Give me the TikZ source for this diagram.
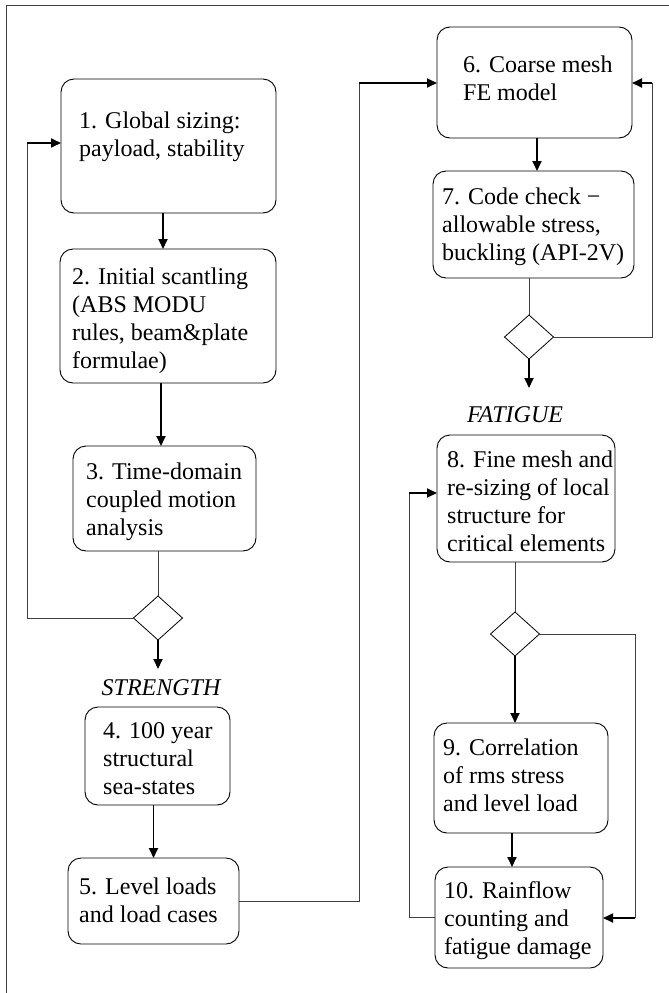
\documentclass[tikz,border=0pt]{standalone}
\usepackage{fontspec}
\setmainfont{Liberation Serif}
\usetikzlibrary{shapes.geometric,arrows.meta}
\tikzset{
  stepbox/.style={draw, rounded corners=13pt, line width=0.9pt, inner sep=0pt, outer sep=0pt},
  steptext/.style={anchor=west, align=left, inner sep=0pt, font=\fontsize{24}{28}\selectfont},
  phase/.style={font=\fontsize{24}{28}\selectfont\itshape, inner sep=0pt},
  decision/.style={draw, diamond, minimum width=49pt, minimum height=44pt, inner sep=0pt, outer sep=0pt, line width=0.8pt},
  flow/.style={-{Triangle[length=10pt,width=9pt]}, line width=1.8pt},
  link/.style={line width=0.9pt, black!75},
}
\begin{document}
\begin{tikzpicture}[x=1pt, y=-1pt]
\useasboundingbox (0,0) rectangle (669,993);
% frame
\draw[link] (6,1000) -- (6,5) -- (680,5);

% left column: sizing and strength
\node[stepbox, minimum width=215pt, minimum height=134pt] (b1) at (168.5,146) {};
\node[steptext] (t1) at ([shift={(18,-9)}]b1.west) {1. Global sizing:\\payload, stability};
\node[stepbox, minimum width=216pt, minimum height=134pt] (b2) at (168,316) {};
\node[steptext] (t2) at ([shift={(12,5)}]b2.west) {2. Initial scantling\\(ABS MODU\\rules, beam\&plate\\formulae)};
\node[stepbox, minimum width=183pt, minimum height=105pt] (b3) at (164.5,498.5) {};
\node[steptext] (t3) at ([shift={(13,3)}]b3.west) {3. Time-domain\\coupled motion\\analysis};
\node[decision] (d1) at (158,618) {};
\node[phase] (lstr) at (161,688) {STRENGTH};
\node[stepbox, minimum width=145pt, minimum height=98pt] (b4) at (157.5,756) {};
\node[steptext] (t4) at ([shift={(18,2.5)}]b4.west) {4. 100 year\\structural\\sea-states};
\node[stepbox, minimum width=171pt, minimum height=86pt] (b5) at (153.5,901) {};
\node[steptext] (t5) at ([shift={(11,-0.5)}]b5.west) {5. Level loads\\and load cases};

% right column: FE model and fatigue
\node[stepbox, minimum width=195pt, minimum height=111pt] (b6) at (534.5,82.5) {};
\node[steptext] (t6) at ([shift={(26,-4.5)}]b6.west) {6. Coarse mesh\\FE model};
\node[stepbox, minimum width=201pt, minimum height=107pt] (b7) at (533.5,224.5) {};
\node[steptext] (t7) at ([shift={(9,2)}]b7.west) {7. Code check −\\allowable stress,\\buckling (API-2V)};
\node[decision] (d2) at (529,337) {};
\node[phase] (lfat) at (515,415) {FATIGUE};
\node[stepbox, minimum width=178pt, minimum height=127pt] (b8) at (526,498.5) {};
\node[steptext] (t8) at ([shift={(10,3)}]b8.west) {8. Fine mesh and\\re-sizing of local\\structure for\\critical elements};
\node[decision] (d3) at (515,634) {};
\node[stepbox, minimum width=174pt, minimum height=110pt] (b9) at (521,778) {};
\node[steptext] (t9) at ([shift={(9,-2.5)}]b9.west) {9. Correlation\\of rms stress\\and level load};
\node[stepbox, minimum width=168pt, minimum height=101pt] (b10) at (519,917.5) {};
\node[steptext] (t10) at ([shift={(9,3)}]b10.west) {10. Rainflow\\counting and\\fatigue damage};

% bends and free ends
\coordinate (c1) at (27,143);
\coordinate (c2) at (359,83);
\coordinate (c3) at (652,83);
\coordinate (c4) at (409,493);
\coordinate (c5) at (635,918);
\coordinate (e1) at (158,669);
\coordinate (e2) at (529,388);

% connectors
\draw[flow] ([xshift=-5.5pt]b1.south) -- ([xshift=-5.5pt]b1.south |- b2.north);
\draw[flow] ([xshift=-7pt]b2.south) -- ([xshift=-7pt]b2.south |- b3.north);
\draw[link] (d1.north |- b3.south) -- (d1.north);
\draw[link] (d1.west) -| (c1);
\draw[flow] (c1) -- (b1.west |- c1);
\draw[flow] (d1.south) -- (e1);
\draw[flow] (b4.south -| b5.north) -- (b5.north);
\draw[link] (b5.east) -| (c2);
\draw[flow] (c2) -- (b6.west |- c2);
\draw[flow] ([xshift=2.5pt]b6.south) -- ([xshift=2.5pt]b6.south |- b7.north);
\draw[link] (d2.north |- b7.south) -- (d2.north);
\draw[link] (d2.east) -| (c3);
\draw[flow] (c3) -- (b6.east |- c3);
\draw[flow] (d2.south) -- (e2);
\draw[link] (d3.north |- b8.south) -- (d3.north);
\draw[flow] (d3.south) -- (d3.south |- b9.north);
\draw[link] (d3.east) -| (c5);
\draw[flow] (c5) -- (b10.east |- c5);
\draw[flow] ([xshift=-9pt]b9.south) -- ([xshift=-9pt]b9.south |- b10.north);
\draw[link] (b10.west) -| (c4);
\draw[flow] (c4) -- (b8.west |- c4);
\end{tikzpicture}
\end{document}
